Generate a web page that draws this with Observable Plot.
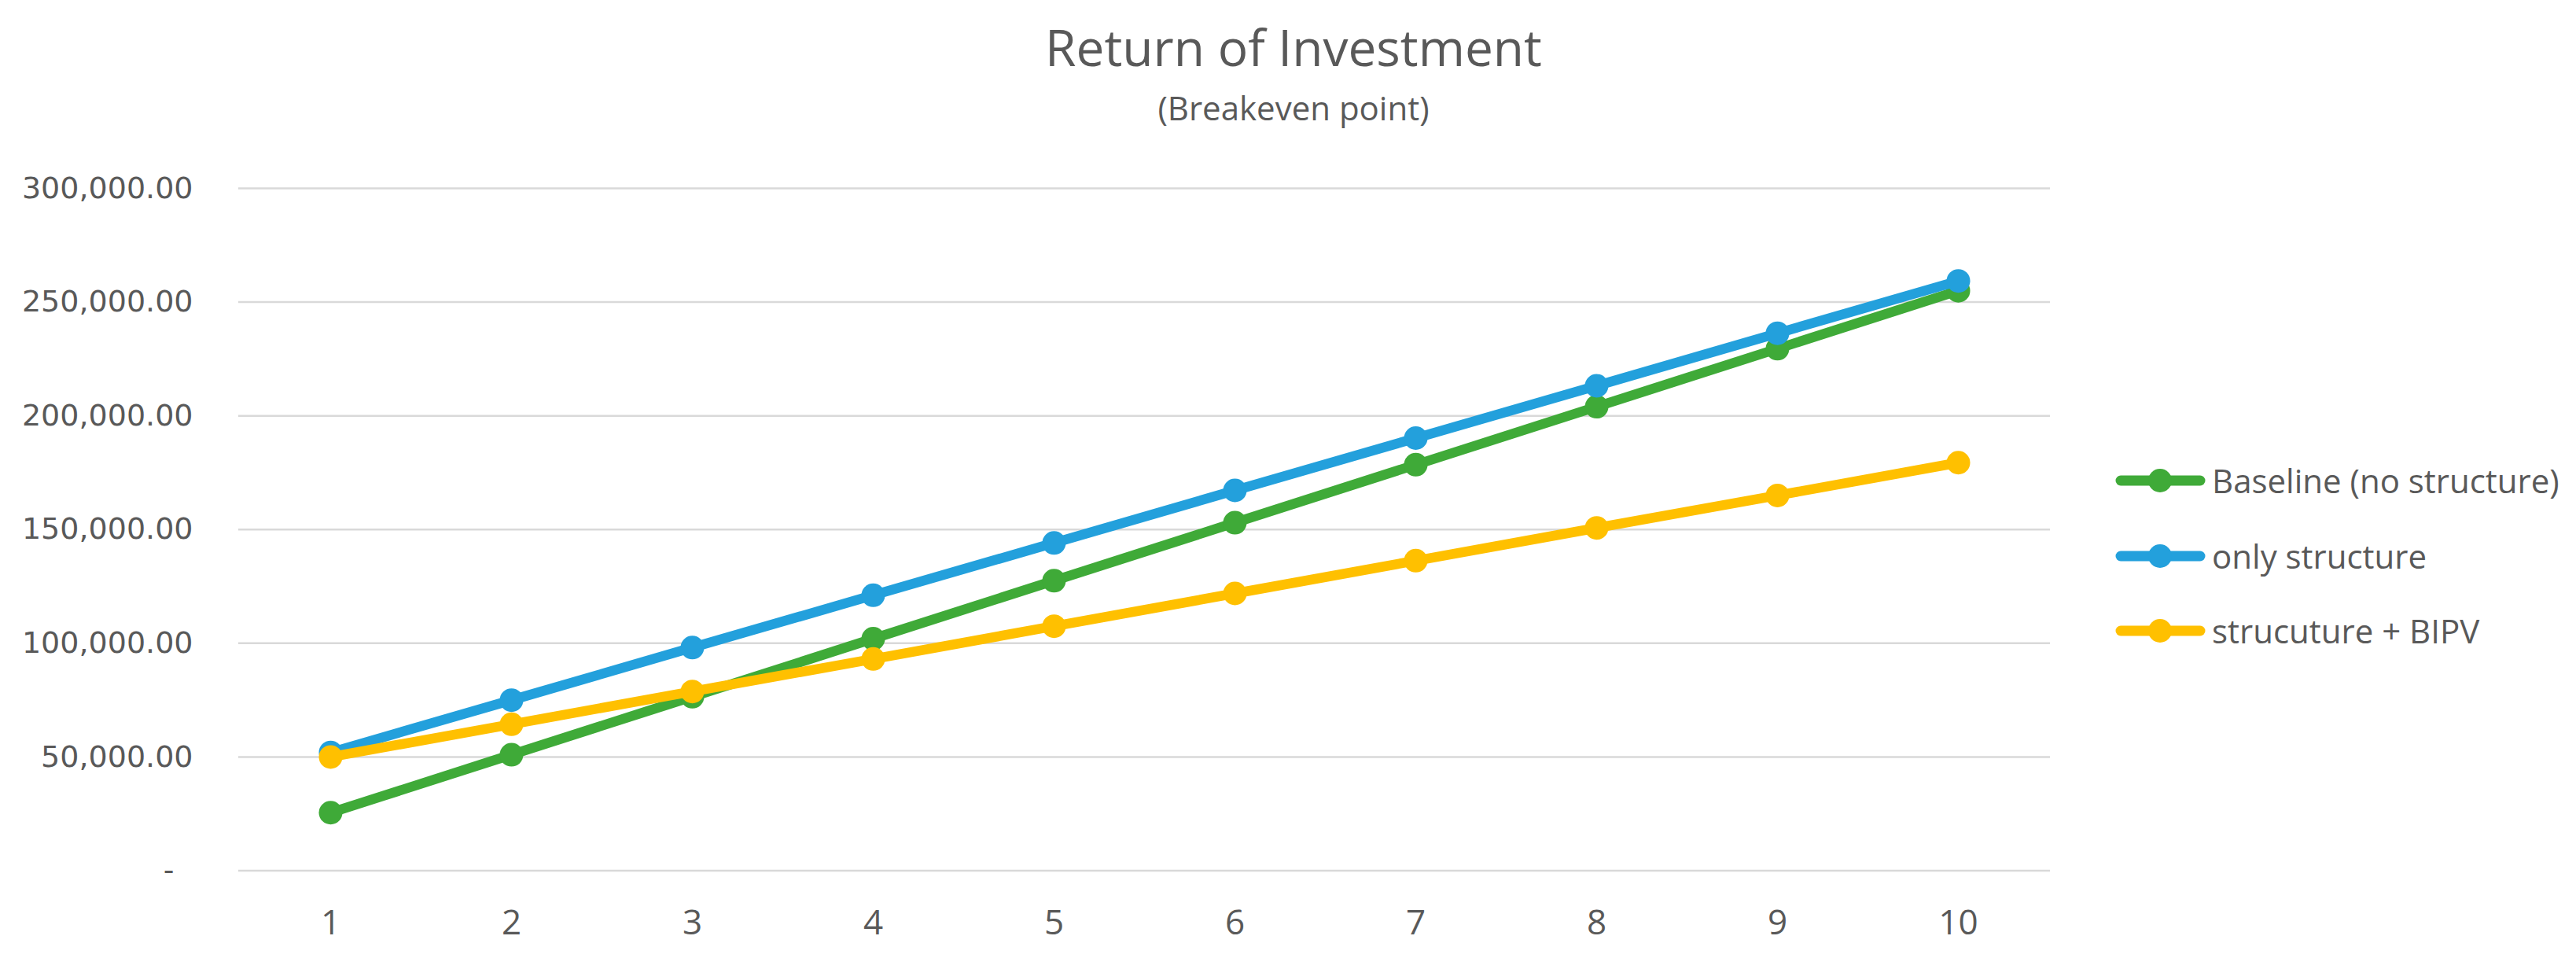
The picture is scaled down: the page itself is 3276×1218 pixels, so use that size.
<!DOCTYPE html>
<html>
<head>
<meta charset="utf-8">
<script src="https://cdn.jsdelivr.net/npm/d3@7"></script>
<script src="https://cdn.jsdelivr.net/npm/@observablehq/plot@0.6"></script>
<style>
  html, body { margin: 0; padding: 0; background: #ffffff; }
  #wrap { position: relative; width: 3276px; height: 1218px; background: #ffffff; overflow: hidden; }
  .title { position: absolute; left: 0; width: 3290px; text-align: center; font-family: "Open Sans", sans-serif; color: #595959; line-height: 1; white-space: nowrap; }
  #chart { position: absolute; left: 0; top: 180px; }
  .leg { position: absolute; left: 2690px; height: 60px; display: flex; align-items: center; white-space: nowrap; }
  .leg span { font-family: "Open Sans", sans-serif; font-size: 42px; line-height: 60px; color: #595959; margin-left: 8px; }
</style>
</head>
<body>
<div id="wrap">
  <div class="title" id="t1" style="top:28px;font-size:64px;"></div>
  <div class="title" id="t2" style="top:116px;font-size:42px;"></div>
  <div id="chart"></div>
</div>
<script>
// ---- data ----
const titleText = "Return of Investment";
const subtitleText = "(Breakeven point)";
const years = [1, 2, 3, 4, 5, 6, 7, 8, 9, 10];
const seriesNames = ["Baseline (no structure)", "only structure", "strucuture + BIPV"];
const seriesColors = ["#3FAA38", "#23A0DC", "#FFC000"];
const baseline = [25500, 51000, 76500, 102000, 127500, 153000, 178500, 204000, 229500, 255000];
const onlyStructure = [52000, 75000, 98100, 121100, 144100, 167200, 190200, 213200, 236300, 259300];
const structureBipv = [50000, 64400, 78800, 93100, 107500, 121900, 136300, 150700, 165000, 179400];
const yTicks = [0, 50000, 100000, 150000, 200000, 250000, 300000];

const seriesValues = [baseline, onlyStructure, structureBipv];
const rows = [];
seriesNames.forEach((name, i) => {
  years.forEach((yr, j) => rows.push({series: name, year: yr, value: seriesValues[i][j]}));
});

document.getElementById("t1").textContent = titleText;
document.getElementById("t2").textContent = subtitleText;

const fmt = d3.format(",.2f");
const tickFmt = d => d === 0 ? "-\u00A0\u00A0" : fmt(d);

const seriesMarks = seriesNames.flatMap((name, i) => {
  const d = rows.filter(r => r.series === name);
  return [
    Plot.line(d, {x: "year", y: "value", stroke: seriesColors[i], strokeWidth: 12.5, strokeLinecap: "round", strokeLinejoin: "round"}),
    Plot.dot(d, {x: "year", y: "value", r: 15, fill: seriesColors[i], stroke: "none"})
  ];
});

const chart = Plot.plot({
  width: 3276,
  height: 1038,
  marginTop: 59,
  marginBottom: 111.5,
  marginLeft: 303,
  marginRight: 669,
  style: {background: "#ffffff", color: "#595959", fontFamily: "DejaVu Sans", fontSize: "38px"},
  x: {type: "point", domain: years, padding: 0.5, label: null},
  y: {domain: [0, 300000], label: null},
  marks: [
    Plot.gridY(yTicks, {stroke: "#D9D9D9", strokeOpacity: 1, strokeWidth: 2.5}),
    Plot.axisY(yTicks, {tickSize: 0, tickPadding: 58, tickFormat: tickFmt, fontSize: 38, fontFamily: "DejaVu Sans", fill: "#595959", label: null}),
    Plot.axisX(years, {tickSize: 0, tickPadding: 50, fontSize: 44, fontFamily: "Open Sans", fill: "#595959", label: null}),
    ...seriesMarks
  ]
});
document.getElementById("chart").appendChild(chart);

// legend (HTML, from the series arrays)
const legendCenters = [611, 707, 802];
const wrap = document.getElementById("wrap");
seriesNames.forEach((name, i) => {
  const div = document.createElement("div");
  div.className = "leg";
  div.style.top = (legendCenters[i] - 30) + "px";
  div.innerHTML = `<svg width="115" height="60"><line x1="7" x2="108" y1="30" y2="30" stroke="${seriesColors[i]}" stroke-width="13" stroke-linecap="round"/><circle cx="57" cy="30" r="15" fill="${seriesColors[i]}"/></svg>`;
  const sp = document.createElement("span");
  sp.textContent = name;
  div.appendChild(sp);
  wrap.appendChild(div);
});
</script>
</body>
</html>
